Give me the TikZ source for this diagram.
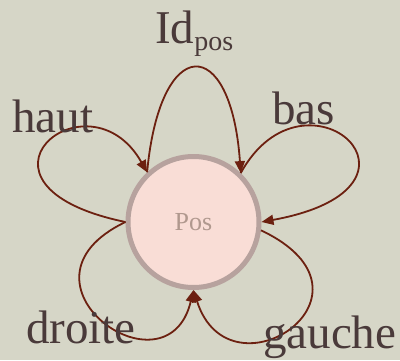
\documentclass[tikz,border=0pt]{standalone}
\usepackage{fontspec}
\setmainfont{Liberation Serif}
\usetikzlibrary{arrows.meta}
\definecolor{bgc}{RGB}{214,214,199}
\definecolor{arrc}{RGB}{108,32,16}
\definecolor{txtc}{RGB}{74,58,58}
\definecolor{posfill}{RGB}{249,221,214}
\definecolor{posline}{RGB}{183,162,158}
\definecolor{postext}{RGB}{176,152,142}
\begin{document}
\begin{tikzpicture}[x=1pt,y=-1pt,
  lbl/.style={inner sep=0,anchor=base west,text=txtc,font=\fontsize{47}{50}\selectfont},
  loopline/.style={draw=arrc,line width=1.8pt,-{Triangle[length=12pt,width=10pt]}},
  state/.style={circle,minimum size=131pt,inner sep=0,line width=5pt,draw=posline,fill=posfill,text=postext,font=\fontsize{26}{28}\selectfont}]
\fill[bgc] (0,0) rectangle (400,360);
\useasboundingbox (0,0) rectangle (400,360);
\node[state] (pos) at (193.5,222) {Pos};
\draw[loopline] (pos.133) .. controls (160,33) and (231,33) .. (pos.46);
\draw[loopline] (pos.180) .. controls (-53,185) and (88,68) .. (pos.133);
\draw[loopline] (pos.46) .. controls (305,56) and (453,187) .. (pos.0);
\draw[loopline] (pos.180) .. controls (0,282) and (167,401) .. (pos.270);
\draw[loopline] (pos.353) .. controls (395,294) and (229.5,404) .. (pos.270);
\node[lbl] (id) at (155,43) {Id\raisebox{-7pt}{\fontsize{28}{30}\selectfont pos}};
\node[lbl] (haut) at (12,132) {haut};
\node[lbl] (bas) at (272,124) {bas};
\node[lbl] (droite) at (26,343) {droite};
\node[lbl] (gauche) at (263,348) {gauche};
\end{tikzpicture}
\end{document}
